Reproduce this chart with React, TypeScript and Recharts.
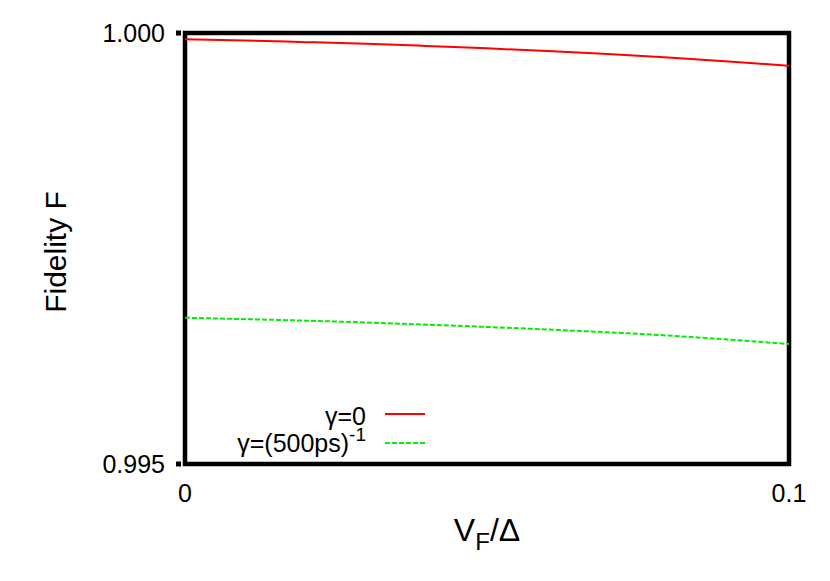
import React from 'react';
import {
  LineChart, Line, XAxis, YAxis, ReferenceArea, Legend
} from 'recharts';

// V_F / Delta
const vRatio = [0, 0.01, 0.02, 0.03, 0.04, 0.05, 0.06, 0.07, 0.08, 0.09, 0.1];
// gamma = 0
const fidelityNoDecay = [0.999927, 0.999912, 0.999894, 0.999875, 0.99985, 0.999822, 0.99979, 0.999755, 0.999715, 0.99967, 0.999621];
// gamma = (500ps)^-1
const fidelityDecay = [0.996697, 0.99668, 0.996663, 0.996641, 0.996616, 0.99659, 0.99656, 0.996528, 0.99649, 0.996443, 0.996392];

const xTicks = [0, 0.1];
const yTicks = [0.995, 1.0];

const FONT = '"Liberation Sans", Arial, Helvetica, sans-serif';

const data = vRatio.map((v, i) => ({
  v,
  g0: fidelityNoDecay[i],
  g500: fidelityDecay[i],
}));

const XLabel = (props: any) => {
  const { viewBox } = props;
  const cx = viewBox.x + viewBox.width / 2;
  return (
    <text x={cx} y={541} textAnchor="middle" fontSize={32} fontFamily={FONT} fill="#000">
      V<tspan fontSize={24} dy={9}>F</tspan><tspan dy={-9}>/Δ</tspan>
    </text>
  );
};

const YLabel = () => (
  <text x={66} y={252} transform="rotate(-90, 66, 252)" textAnchor="middle" fontSize={30} fontFamily={FONT} fill="#000">
    Fidelity F
  </text>
);

// y tick: label plus the small square mark gnuplot draws outside the border
const YTick = (props: any) => {
  const { x, y, payload } = props;
  return (
    <g>
      <rect x={x + 11} y={y - 2.5} width={5} height={5} fill="#000" />
      <text x={x} y={y} dy="0.355em" textAnchor="end" fontSize={25} fontFamily={FONT} fill="#000">
        {Number(payload.value).toFixed(3)}
      </text>
    </g>
  );
};

const LegendBox = () => (
  <svg width={830} height={581} style={{ display: 'block' }}>
    <g fontFamily={FONT} fill="#000">
      <text x={366} y={425} textAnchor="end" fontSize={25}>γ=0</text>
      <line x1={385} x2={425} y1={414} y2={414} stroke="#ff0000" strokeWidth={2} />
      <text x={366} y={452} textAnchor="end" fontSize={25}>
        γ=(500ps)<tspan fontSize={19} dy={-11}>-1</tspan>
      </text>
      <line x1={385} x2={425} y1={443} y2={443} stroke="#00ee00" strokeWidth={2} strokeDasharray="5 2" />
    </g>
  </svg>
);

export default function App() {
  return (
    <div style={{ position: 'fixed', left: 0, top: 0, width: 830, height: 581, background: '#fff' }}>
      <LineChart
        width={830}
        height={581}
        data={data}
        margin={{ top: 33, right: 41, bottom: 0, left: 0 }}
        style={{ fontFamily: FONT }}
      >
        <XAxis
          dataKey="v"
          type="number"
          domain={[0, 0.1]}
          ticks={xTicks}
          tickFormatter={(t: number) => (t === 0 ? '0' : String(t))}
          height={117}
          axisLine={false}
          tickLine={false}
          tickSize={0}
          tickMargin={20}
          tick={{ fill: '#000', fontSize: 25, fontFamily: FONT }}
          label={<XLabel />}
        />
        <YAxis
          type="number"
          domain={[0.995, 1.0]}
          ticks={yTicks}
          width={185}
          axisLine={false}
          tickLine={false}
          tickSize={9}
          tickMargin={11}
          tick={<YTick />}
          label={<YLabel />}
        />
        <Line
          type="monotone"
          dataKey="g0"
          name="γ=0"
          stroke="#ff0000"
          strokeWidth={2}
          dot={false}
          isAnimationActive={false}
        />
        <Line
          type="monotone"
          dataKey="g500"
          name="γ=(500ps)^-1"
          stroke="#00ee00"
          strokeWidth={2}
          strokeDasharray="5 2"
          dot={false}
          isAnimationActive={false}
        />
        <ReferenceArea
          x1={0}
          x2={0.1}
          y1={0.995}
          y2={1.0}
          fill="none"
          stroke="#000"
          strokeWidth={4.5}
          ifOverflow="visible"
        />
        <Legend
          layout="vertical"
          align="center"
          verticalAlign="middle"
          content={<LegendBox />}
          wrapperStyle={{ left: 0, top: 0, width: 830, height: 581, pointerEvents: 'none' }}
        />
      </LineChart>
    </div>
  );
}
